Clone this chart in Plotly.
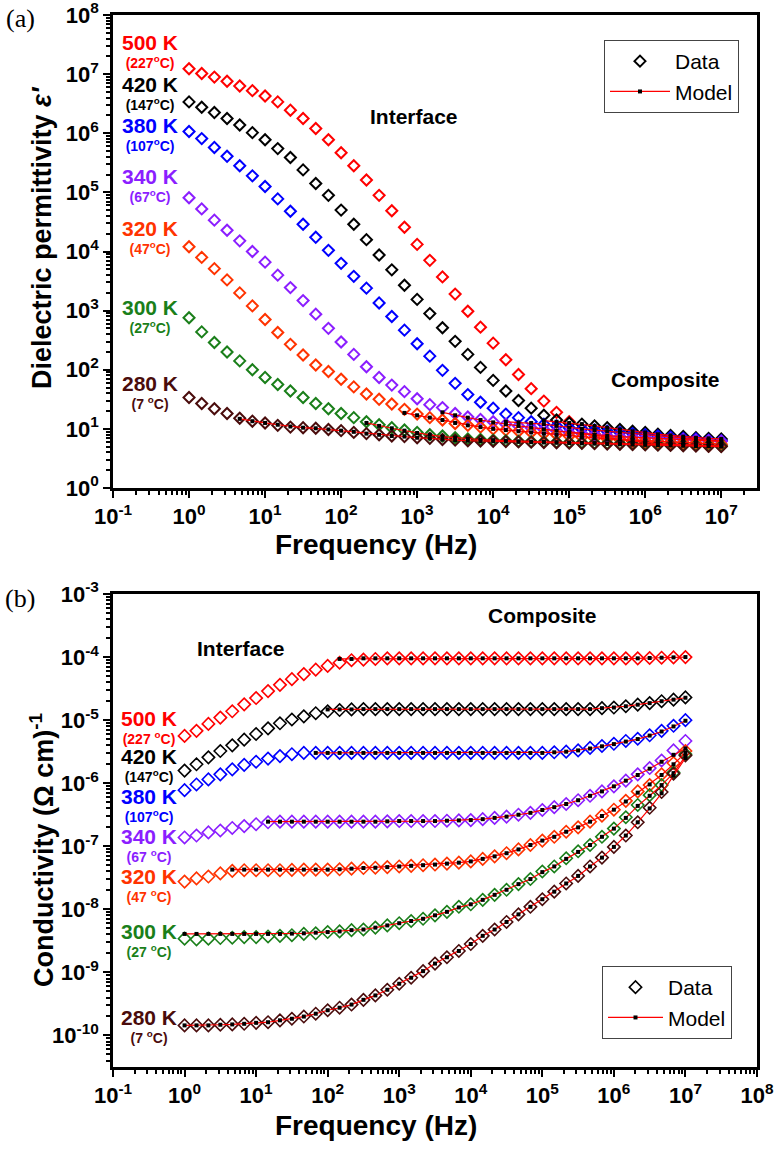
import plotly.graph_objects as go

W, H = 776, 1156

# ---------------- data ----------------
FREQ = [1.0, 1.468, 2.154, 3.162, 4.642, 6.813, 10.0, 14.68, 21.54, 31.62, 46.42, 68.13,
        100.0, 146.8, 215.4, 316.2, 464.2, 681.3, 1000.0, 1468.0, 2154.0, 3162.0, 4642.0, 6813.0,
        1.0e4, 1.468e4, 2.154e4, 3.162e4, 4.642e4, 6.813e4, 1.0e5, 1.468e5, 2.154e5, 3.162e5,
        4.642e5, 6.813e5, 1.0e6, 1.468e6, 2.154e6, 3.162e6, 4.642e6, 6.813e6, 1.0e7]

TEMPS = ["500 K", "420 K", "380 K", "340 K", "320 K", "300 K", "280 K"]
COLORS = ["#FF0000", "#000000", "#0000FF", "#8B1EFF", "#FF3300", "#1A7F1A", "#4A0C0C"]

# panel (a): log10 of dielectric permittivity, data
LOG_EPS_500 = [7.09, 7.01, 6.95, 6.88, 6.80, 6.72, 6.63, 6.53, 6.39, 6.25, 6.08, 5.89, 5.67, 5.45, 5.21,
               4.95, 4.69, 4.41, 4.12, 3.85, 3.57, 3.28, 2.99, 2.72, 2.45, 2.17, 1.92, 1.68, 1.47, 1.28,
               1.12, 1.00, 0.91, 0.85, 0.82, 0.79, 0.77, 0.75, 0.74, 0.73, 0.72, 0.71, 0.71]
LOG_EPS_420 = [6.53, 6.44, 6.35, 6.25, 6.14, 6.01, 5.89, 5.74, 5.59, 5.38, 5.15, 4.95, 4.70, 4.46, 4.20,
               3.94, 3.69, 3.43, 3.19, 2.95, 2.71, 2.48, 2.26, 2.04, 1.82, 1.64, 1.48, 1.35, 1.23, 1.15,
               1.10, 1.08, 1.05, 1.02, 0.99, 0.96, 0.94, 0.91, 0.89, 0.87, 0.85, 0.84, 0.83]
LOG_EPS_380 = [6.03, 5.91, 5.76, 5.61, 5.45, 5.28, 5.10, 4.89, 4.68, 4.46, 4.24, 4.02, 3.80, 3.58, 3.38,
               3.13, 2.90, 2.67, 2.44, 2.23, 1.99, 1.77, 1.58, 1.45, 1.35, 1.25, 1.19, 1.12, 1.08, 1.05,
               1.02, 1.00, 0.98, 0.96, 0.94, 0.92, 0.90, 0.88, 0.86, 0.84, 0.83, 0.81, 0.80]
LOG_EPS_340 = [4.91, 4.72, 4.53, 4.36, 4.18, 4.00, 3.82, 3.60, 3.39, 3.17, 2.94, 2.70, 2.47, 2.26, 2.05,
               1.87, 1.74, 1.63, 1.51, 1.41, 1.36, 1.26, 1.20, 1.16, 1.12, 1.08, 1.05, 1.02, 0.99, 0.97,
               0.94, 0.92, 0.90, 0.88, 0.87, 0.86, 0.85, 0.84, 0.83, 0.82, 0.81, 0.80, 0.79]
LOG_EPS_320 = [4.08, 3.90, 3.71, 3.52, 3.30, 3.08, 2.85, 2.63, 2.43, 2.25, 2.08, 1.97, 1.84, 1.71, 1.59,
               1.50, 1.42, 1.33, 1.25, 1.19, 1.15, 1.09, 1.06, 1.03, 1.00, 0.98, 0.96, 0.94, 0.92, 0.90,
               0.88, 0.86, 0.84, 0.83, 0.82, 0.81, 0.80, 0.79, 0.78, 0.77, 0.76, 0.75, 0.74]
LOG_EPS_300 = [2.88, 2.64, 2.46, 2.30, 2.15, 2.00, 1.87, 1.75, 1.64, 1.53, 1.43, 1.34, 1.26, 1.19, 1.12,
               1.07, 1.02, 0.98, 0.94, 0.90, 0.88, 0.85, 0.83, 0.82, 0.81, 0.80, 0.79, 0.785, 0.78, 0.775,
               0.77, 0.765, 0.76, 0.755, 0.75, 0.745, 0.74, 0.735, 0.73, 0.725, 0.72, 0.715, 0.71]
LOG_EPS_280 = [1.53, 1.43, 1.34, 1.26, 1.18, 1.13, 1.10, 1.06, 1.03, 1.02, 1.01, 0.99, 0.97, 0.94, 0.92,
               0.90, 0.88, 0.87, 0.85, 0.84, 0.82, 0.81, 0.80, 0.795, 0.79, 0.785, 0.78, 0.775, 0.77, 0.765,
               0.76, 0.755, 0.75, 0.745, 0.74, 0.735, 0.73, 0.725, 0.72, 0.715, 0.71, 0.705, 0.70]

# panel (a): model (index of first frequency, log10 values)
MOD_EPS_500 = (30, [0.95, 0.92, 0.90, 0.85, 0.82, 0.79, 0.77, 0.75, 0.74, 0.73, 0.72, 0.71, 0.71])
MOD_EPS_420 = (28, [1.14, 1.12, 1.10, 1.08, 1.05, 1.02, 0.99, 0.96, 0.94, 0.91, 0.89, 0.87, 0.85, 0.84, 0.83])
MOD_EPS_380 = (25, [1.12, 1.11, 1.10, 1.08, 1.05, 1.02, 1.00, 0.98, 0.96, 0.94, 0.92, 0.90, 0.88, 0.86,
                    0.84, 0.83, 0.81, 0.80])
MOD_EPS_340 = (20, [1.28, 1.23, 1.19, 1.15, 1.11, 1.08, 1.05, 1.02, 0.99, 0.97, 0.94, 0.92, 0.90, 0.88,
                    0.87, 0.86, 0.85, 0.84, 0.83, 0.82, 0.81, 0.80, 0.79])
MOD_EPS_320 = (17, [1.27, 1.23, 1.19, 1.15, 1.10, 1.06, 1.03, 1.00, 0.98, 0.96, 0.94, 0.92, 0.90, 0.88,
                    0.86, 0.84, 0.83, 0.82, 0.81, 0.80, 0.79, 0.78, 0.77, 0.76, 0.75, 0.74])
MOD_EPS_300 = (14, [1.10, 1.05, 1.01, 0.97, 0.93, 0.90, 0.87, 0.85, 0.83, 0.82, 0.81, 0.80, 0.79, 0.785,
                    0.78, 0.775, 0.77, 0.765, 0.76, 0.755, 0.75, 0.745, 0.74, 0.735, 0.73, 0.725, 0.72,
                    0.715, 0.71])
MOD_EPS_280 = (4, [1.17, 1.13, 1.10, 1.07, 1.04, 1.02, 1.01, 0.99, 0.97, 0.95, 0.92, 0.90, 0.88, 0.87,
                   0.85, 0.84, 0.82, 0.81, 0.80, 0.795, 0.79, 0.785, 0.78, 0.775, 0.77, 0.765, 0.76,
                   0.755, 0.75, 0.745, 0.74, 0.735, 0.73, 0.725, 0.72, 0.715, 0.71, 0.705, 0.70])

# panel (b): log10 of conductivity, data
LOG_SIG_500 = [-5.25, -5.17, -5.06, -4.96, -4.86, -4.75, -4.65, -4.54, -4.44, -4.35, -4.27, -4.20, -4.14,
               -4.09, -4.05, -4.04, -4.03, -4.02, -4.02, -4.02, -4.02, -4.02, -4.02, -4.02, -4.02, -4.02,
               -4.02, -4.02, -4.02, -4.02, -4.02, -4.02, -4.02, -4.02, -4.02, -4.02, -4.02, -4.02, -4.02,
               -4.015, -4.01, -4.005, -4.00]
LOG_SIG_420 = [-5.80, -5.70, -5.59, -5.49, -5.40, -5.31, -5.22, -5.13, -5.05, -4.99, -4.94, -4.89, -4.86,
               -4.84, -4.83, -4.825, -4.825, -4.825, -4.825, -4.825, -4.825, -4.825, -4.825, -4.825,
               -4.825, -4.825, -4.825, -4.825, -4.825, -4.825, -4.825, -4.825, -4.825, -4.825, -4.825,
               -4.81, -4.80, -4.78, -4.755, -4.73, -4.70, -4.675, -4.64]
LOG_SIG_380 = [-6.11, -6.02, -5.94, -5.86, -5.78, -5.71, -5.66, -5.61, -5.57, -5.54, -5.52, -5.52, -5.52,
               -5.52, -5.52, -5.52, -5.52, -5.52, -5.52, -5.52, -5.52, -5.52, -5.52, -5.52, -5.52, -5.52,
               -5.52, -5.52, -5.52, -5.52, -5.52, -5.51, -5.50, -5.48, -5.44, -5.41, -5.375, -5.33,
               -5.295, -5.24, -5.17, -5.09, -5.00]
LOG_SIG_340 = [-6.86, -6.83, -6.78, -6.75, -6.71, -6.68, -6.65, -6.62, -6.61, -6.61, -6.61, -6.61, -6.61,
               -6.61, -6.61, -6.61, -6.61, -6.605, -6.60, -6.60, -6.60, -6.60, -6.595, -6.59, -6.585,
               -6.57, -6.55, -6.53, -6.50, -6.47, -6.425, -6.38, -6.33, -6.27, -6.20, -6.13, -6.05,
               -5.96, -5.86, -5.76, -5.64, -5.48, -5.33]
LOG_SIG_320 = [-7.56, -7.51, -7.48, -7.43, -7.39, -7.38, -7.38, -7.38, -7.38, -7.375, -7.37, -7.37, -7.37,
               -7.365, -7.355, -7.345, -7.34, -7.33, -7.32, -7.31, -7.30, -7.29, -7.275, -7.26, -7.24,
               -7.20, -7.16, -7.11, -7.05, -6.98, -6.91, -6.85, -6.77, -6.70, -6.61, -6.515, -6.42,
               -6.28, -6.13, -6.03, -5.86, -5.68, -5.49]
LOG_SIG_300 = [-8.465, -8.476, -8.465, -8.455, -8.45, -8.44, -8.44, -8.43, -8.42, -8.41, -8.39, -8.38,
               -8.36, -8.35, -8.33, -8.32, -8.29, -8.255, -8.22, -8.185, -8.15, -8.095, -8.04, -7.96,
               -7.92, -7.85, -7.77, -7.69, -7.60, -7.52, -7.40, -7.32, -7.19, -7.08, -6.98, -6.85,
               -6.72, -6.54, -6.345, -6.19, -6.03, -5.83, -5.54]
LOG_SIG_280 = [-9.84, -9.84, -9.84, -9.83, -9.825, -9.815, -9.80, -9.79, -9.76, -9.735, -9.70, -9.655,
               -9.60, -9.56, -9.51, -9.435, -9.365, -9.275, -9.18, -9.085, -8.98, -8.86, -8.76, -8.66,
               -8.55, -8.42, -8.32, -8.20, -8.08, -7.96, -7.84, -7.72, -7.59, -7.47, -7.32, -7.18,
               -7.01, -6.83, -6.62, -6.39, -6.14, -5.85, -5.56]

# panel (b): model (index of first frequency, log10 values)
MOD_SIG_500 = (13, [-4.03, -4.03, -4.02, -4.02, -4.02, -4.02, -4.02, -4.02, -4.02, -4.02, -4.02, -4.02,
                    -4.02, -4.02, -4.02, -4.02, -4.02, -4.02, -4.02, -4.02, -4.02, -4.02, -4.02, -4.02,
                    -4.02, -4.02, -4.015, -4.01, -4.005, -4.00])
MOD_SIG_420 = (12, [-4.83, -4.83, -4.83, -4.825, -4.825, -4.825, -4.825, -4.825, -4.825, -4.825, -4.825,
                    -4.825, -4.825, -4.825, -4.825, -4.825, -4.825, -4.825, -4.825, -4.825, -4.825,
                    -4.825, -4.825, -4.81, -4.80, -4.78, -4.755, -4.73, -4.70, -4.675, -4.645])
MOD_SIG_380 = (11, [-5.52, -5.52, -5.52, -5.52, -5.52, -5.52, -5.52, -5.52, -5.52, -5.52, -5.52, -5.52,
                    -5.52, -5.52, -5.52, -5.52, -5.52, -5.52, -5.52, -5.52, -5.51, -5.50, -5.48, -5.45,
                    -5.415, -5.38, -5.34, -5.30, -5.245, -5.18, -5.10, -5.01])
MOD_SIG_340 = (7, [-6.61, -6.61, -6.61, -6.61, -6.61, -6.61, -6.61, -6.61, -6.61, -6.61, -6.605, -6.60,
                   -6.60, -6.60, -6.60, -6.595, -6.59, -6.585, -6.57, -6.55, -6.53, -6.50, -6.47, -6.425,
                   -6.38, -6.33, -6.27, -6.20, -6.13, -6.05, -5.96, -5.87, -5.77, -5.66, -5.55, -5.45])
MOD_SIG_320 = (4, [-7.37, -7.37, -7.37, -7.37, -7.37, -7.37, -7.37, -7.37, -7.37, -7.365, -7.355, -7.345,
                   -7.34, -7.33, -7.32, -7.31, -7.30, -7.29, -7.275, -7.26, -7.24, -7.20, -7.16, -7.11,
                   -7.05, -6.98, -6.91, -6.85, -6.77, -6.70, -6.61, -6.52, -6.42, -6.29, -6.15, -6.02,
                   -5.87, -5.70, -5.52])
MOD_SIG_300 = (0, [-8.39, -8.39, -8.39, -8.39, -8.39, -8.39, -8.39, -8.39, -8.39, -8.385, -8.38, -8.37,
                   -8.36, -8.35, -8.33, -8.32, -8.29, -8.255, -8.22, -8.185, -8.15, -8.095, -8.04, -7.97,
                   -7.92, -7.85, -7.77, -7.69, -7.60, -7.52, -7.41, -7.32, -7.20, -7.09, -6.98, -6.85,
                   -6.72, -6.55, -6.36, -6.20, -6.03, -5.84, -5.57])
MOD_SIG_280 = (0, [-9.84, -9.84, -9.84, -9.83, -9.825, -9.815, -9.80, -9.79, -9.76, -9.735, -9.70, -9.655,
                   -9.60, -9.56, -9.51, -9.435, -9.365, -9.275, -9.18, -9.085, -8.98, -8.86, -8.76, -8.66,
                   -8.55, -8.42, -8.32, -8.20, -8.08, -7.96, -7.84, -7.72, -7.59, -7.47, -7.32, -7.18,
                   -7.01, -6.83, -6.62, -6.40, -6.16, -5.88, -5.60])

EPS_DATA = [LOG_EPS_500, LOG_EPS_420, LOG_EPS_380, LOG_EPS_340, LOG_EPS_320, LOG_EPS_300, LOG_EPS_280]
EPS_MODEL = [MOD_EPS_500, MOD_EPS_420, MOD_EPS_380, MOD_EPS_340, MOD_EPS_320, MOD_EPS_300, MOD_EPS_280]
SIG_DATA = [LOG_SIG_500, LOG_SIG_420, LOG_SIG_380, LOG_SIG_340, LOG_SIG_320, LOG_SIG_300, LOG_SIG_280]
SIG_MODEL = [MOD_SIG_500, MOD_SIG_420, MOD_SIG_380, MOD_SIG_340, MOD_SIG_320, MOD_SIG_300, MOD_SIG_280]

LABELS_A = ["(227<sup>o</sup>C)", "(147<sup>o</sup>C)", "(107<sup>o</sup>C)", "(67<sup>o</sup>C)",
            "(47<sup>o</sup>C)", "(27<sup>o</sup>C)", "(7 <sup>o</sup>C)"]
LABELS_B = ["(227 <sup>o</sup>C)", "(147<sup>o</sup>C)", "(107<sup>o</sup>C)", "(67 <sup>o</sup>C)",
            "(47 <sup>o</sup>C)", "(27 <sup>o</sup>C)", "(7 <sup>o</sup>C)"]

XT_A = [-1, 0, 1, 2, 3, 4, 5, 6, 7]
XT_B = [-1, 0, 1, 2, 3, 4, 5, 6, 7, 8]
YT_A = [0, 1, 2, 3, 4, 5, 6, 7, 8]
YT_B = [-10, -9, -8, -7, -6, -5, -4, -3]

# ---------------- figure ----------------
FONT = "Liberation Sans, Arial, sans-serif"
fig = go.Figure()


def add_panel(datas, models, xa, ya, size, lw, legend):
    for i, (vals, col) in enumerate(zip(datas, COLORS)):
        fig.add_trace(go.Scatter(
            x=FREQ, y=[10 ** v for v in vals], mode="markers", xaxis=xa, yaxis=ya,
            name="Data", legend=legend, showlegend=(i == 1),
            marker=dict(symbol="diamond-open", size=size, color=col, line=dict(width=lw, color=col))))
    for i, (start, vals) in enumerate(models):
        fig.add_trace(go.Scatter(
            x=FREQ[start:start + len(vals)], y=[10 ** v for v in vals], mode="lines+markers",
            xaxis=xa, yaxis=ya, name="Model", legend=legend, showlegend=(i == 0),
            line=dict(color="#FF0000", width=1.2),
            marker=dict(symbol="square", size=4, color="black", line=dict(width=0))))


add_panel(EPS_DATA, EPS_MODEL, "x", "y", 8.5, 2, "legend")
add_panel(SIG_DATA, SIG_MODEL, "x2", "y2", 9.5, 1.6, "legend2")


def sup_label(p):
    return "10<sup>%d</sup>" % p


def minor_vals(lo, hi):
    return [m * 10 ** p for p in range(lo, hi) for m in range(2, 10)]


def axis(dom, rng, ticks, anchor, minor_lo, minor_hi):
    return dict(
        domain=dom, type="log", range=rng, anchor=anchor,
        tickmode="array", tickvals=[10 ** t for t in ticks], ticktext=[sup_label(t) for t in ticks],
        ticks="outside", ticklen=7, tickwidth=2, tickcolor="black", ticklabeloverflow="allow",
        minor=dict(tickmode="array", tickvals=minor_vals(minor_lo, minor_hi), ticks="outside",
                   ticklen=4, tickwidth=1.5, tickcolor="black", showgrid=False),
        showline=True, linewidth=2.5, linecolor="black", mirror=True,
        showgrid=False, zeroline=False, automargin=False,
        tickfont=dict(family=FONT, size=22, color="black", weight="bold"))


XD = [113 / W, 757 / W]
fig.update_layout(
    width=W, height=H, margin=dict(l=0, r=0, t=0, b=0),
    paper_bgcolor="white", plot_bgcolor="white",
    xaxis=axis(XD, [-1, 7.47], XT_A, "y", -1, 8),
    yaxis=axis([1 - 488 / H, 1 - 15 / H], [0, 8], YT_A, "x", 0, 8),
    xaxis2=axis(XD, [-1, 8], XT_B, "y2", -1, 8),
    yaxis2=axis([1 - 1067 / H, 1 - 594 / H], [-10.5, -3], YT_B, "x2", -11, -3),
    legend=dict(x=739 / W, y=1 - 40 / H, xanchor="right", yanchor="top", bgcolor="white",
                bordercolor="#444", borderwidth=1, itemwidth=60,
                font=dict(family=FONT, size=21, color="black")),
    legend2=dict(x=732 / W, y=1 - 966 / H, xanchor="right", yanchor="top", bgcolor="white",
                 bordercolor="#444", borderwidth=1, itemwidth=55,
                 font=dict(family=FONT, size=21, color="black")),
)


def text(px, py, s, size, color="black", bold=True, family=FONT, angle=0, xanchor="center"):
    fig.add_annotation(x=px / W, y=1 - py / H, xref="paper", yref="paper", text=s, showarrow=False,
                       textangle=angle, xanchor=xanchor, yanchor="middle",
                       font=dict(family=family, size=size, color=color,
                                 weight="bold" if bold else "normal"))


# panel labels
text(20, 19, "(a)", 26, bold=False, family="Liberation Serif, Times New Roman, serif")
text(20, 598, "(b)", 26, bold=False, family="Liberation Serif, Times New Roman, serif")

# axis titles
text(42, 238, "Dielectric permittivity <i>ε'</i>", 27, angle=-90)
text(376, 544, "Frequency (Hz)", 28)
text(42, 850, "Conductivity (Ω cm)<sup>-1</sup>", 27, angle=-90)
text(376, 1125, "Frequency (Hz)", 28)

# region labels
text(414, 117, "Interface", 21)
text(665, 380, "Composite", 21)
text(241, 648, "Interface", 21)
text(542, 616, "Composite", 21)

# temperature labels: one two-line text each (big "K" line, small Celsius line)
CENTER_A = [51, 93, 134, 185, 237, 316, 392]
CENTER_B = [727, 765, 805, 845, 885, 940, 1026]
for lab, sub, col, yc in zip(TEMPS, LABELS_A, COLORS, CENTER_A):
    text(150, yc, '<span style="font-size:21px">%s</span><br>%s' % (lab, sub), 14, col)
for lab, sub, col, yc in zip(TEMPS, LABELS_B, COLORS, CENTER_B):
    text(149, yc, '<span style="font-size:21px">%s</span><br>%s' % (lab, sub), 14, col)

fig.write_html("out.html")
